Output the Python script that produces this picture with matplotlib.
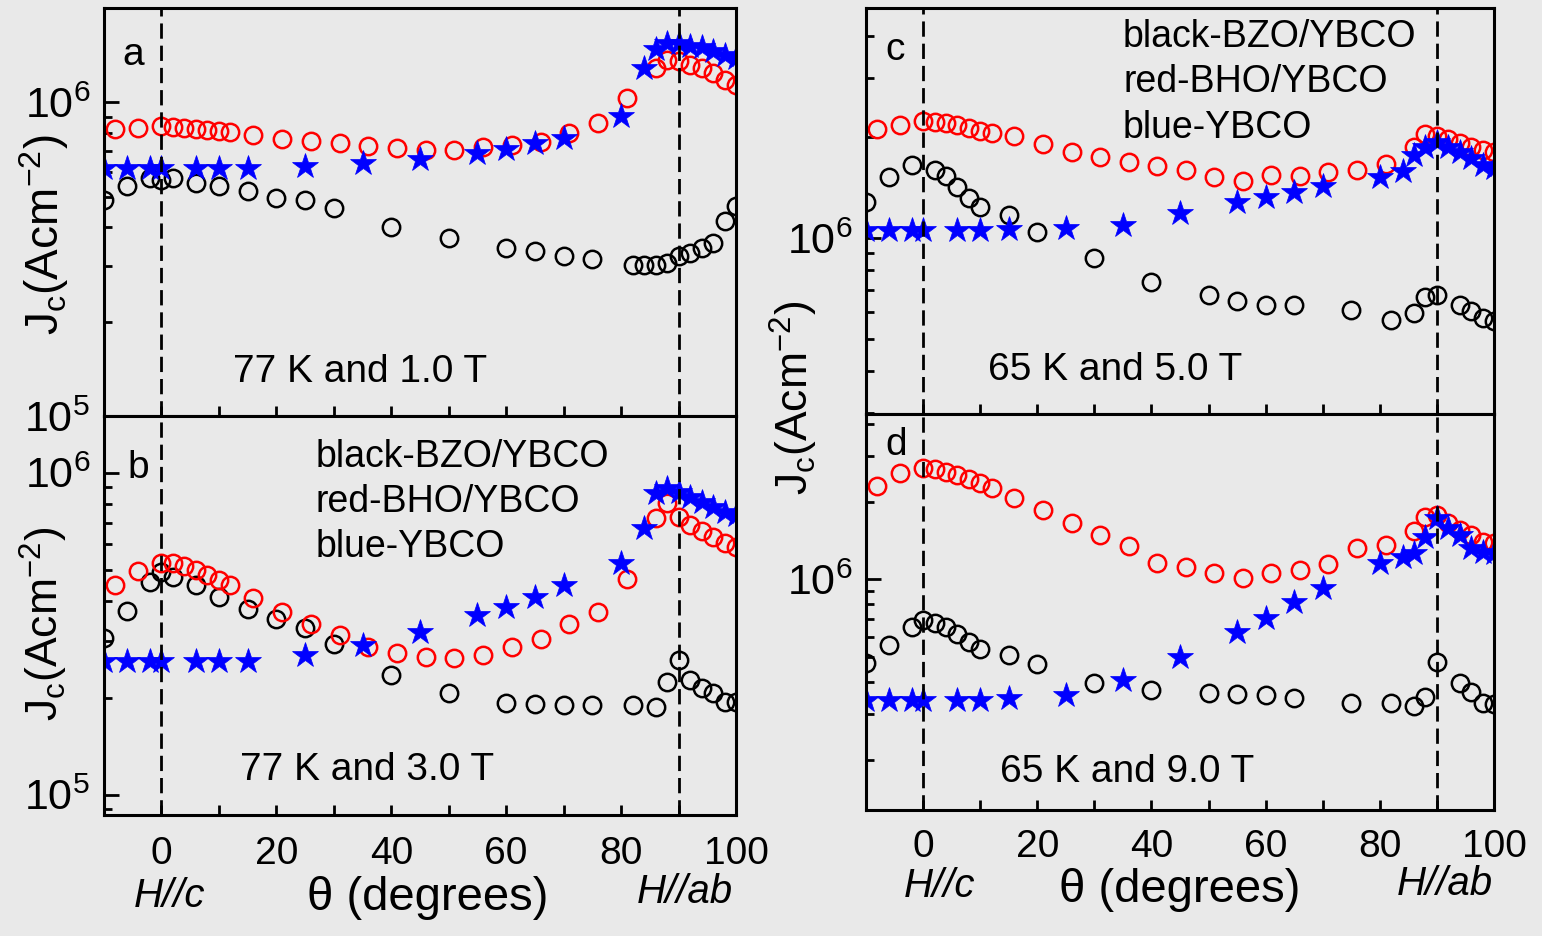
import matplotlib
matplotlib.use('Agg')
import matplotlib.pyplot as plt
from matplotlib.ticker import LogLocator, MultipleLocator, NullFormatter

# angles (degrees)
red_x = [-8, -4, 0, 2, 4, 6, 8, 10, 12, 16, 21, 26, 31, 36, 41, 46, 51, 56, 61, 66,
         71, 76, 81, 86, 88, 90, 92, 94, 96, 98, 100]
blue_x = [-10, -6, -2, 0, 6, 10, 15, 25, 35, 45, 55, 60, 65, 70, 80, 84, 86, 88, 90,
          92, 94, 96, 98, 100]
black_x_a = [-10, -6, -2, 0, 2, 6, 10, 15, 20, 25, 30, 40, 50, 60, 65, 70, 75, 82, 84,
             86, 88, 90, 92, 94, 96, 98, 100]
black_x_b = [-10, -6, -2, 0, 2, 6, 10, 15, 20, 25, 30, 40, 50, 60, 65, 70, 75, 82, 86,
             88, 90, 92, 94, 96, 98, 100]
black_x_c = [-10, -6, -2, 2, 4, 6, 8, 10, 15, 20, 30, 40, 50, 55, 60, 65, 75, 82, 86,
             88, 90, 94, 96, 98, 100]
black_x_d = [-10, -6, -2, 0, 2, 4, 6, 8, 10, 15, 20, 30, 40, 50, 55, 60, 65, 75, 82,
             86, 88, 90, 94, 96, 98, 100]

# Jc values (A/cm^2)
# (a) 77 K, 1.0 T
black_a = [4.9e5, 5.4e5, 5.74e5, 5.67e5, 5.74e5, 5.54e5, 5.4e5, 5.21e5, 4.96e5, 4.9e5,
           4.61e5, 4.02e5, 3.7e5, 3.43e5, 3.35e5, 3.23e5, 3.17e5, 3.04e5, 3.03e5, 3.03e5,
           3.08e5, 3.23e5, 3.31e5, 3.43e5, 3.56e5, 4.18e5, 4.66e5]
red_a = [8.2e5, 8.3e5, 8.4e5, 8.34e5, 8.3e5, 8.24e5, 8.15e5, 8.1e5, 8.06e5, 7.9e5,
         7.67e5, 7.52e5, 7.4e5, 7.25e5, 7.13e5, 7.04e5, 7.07e5, 7.2e5, 7.31e5, 7.47e5,
         8.0e5, 8.57e5, 1.03e6, 1.29e6, 1.37e6, 1.355e6, 1.32e6, 1.29e6, 1.24e6,
         1.18e6, 1.14e6]
blue_a = [6.19e5, 6.2e5, 6.19e5, 6.2e5, 6.19e5, 6.19e5, 6.2e5, 6.26e5, 6.42e5, 6.6e5,
          6.9e5, 7.08e5, 7.4e5, 7.71e5, 9.04e5, 1.29e6, 1.48e6, 1.55e6, 1.55e6, 1.51e6,
          1.5e6, 1.46e6, 1.42e6, 1.39e6]
# (b) 77 K, 3.0 T
black_b = [3.06e5, 3.73e5, 4.59e5, 4.93e5, 4.75e5, 4.48e5, 4.12e5, 3.77e5, 3.51e5,
           3.3e5, 2.93e5, 2.35e5, 2.07e5, 1.92e5, 1.91e5, 1.9e5, 1.9e5, 1.9e5, 1.87e5,
           2.24e5, 2.62e5, 2.27e5, 2.14e5, 2.07e5, 1.94e5, 1.94e5]
red_b = [4.48e5, 4.96e5, 5.23e5, 5.23e5, 5.14e5, 4.99e5, 4.81e5, 4.64e5, 4.48e5, 4.07e5,
         3.7e5, 3.39e5, 3.13e5, 2.88e5, 2.75e5, 2.68e5, 2.65e5, 2.72e5, 2.87e5, 3.04e5,
         3.4e5, 3.7e5, 4.67e5, 7.22e5, 8.03e5, 7.3e5, 6.88e5, 6.6e5, 6.33e5, 6.04e5,
         5.89e5]
blue_b = [2.61e5, 2.61e5, 2.61e5, 2.61e5, 2.61e5, 2.61e5, 2.61e5, 2.71e5, 2.92e5,
          3.21e5, 3.61e5, 3.83e5, 4.1e5, 4.48e5, 5.23e5, 6.72e5, 8.63e5, 8.94e5,
          8.73e5, 8.42e5, 8.13e5, 7.84e5, 7.56e5, 7.39e5]
# (c) 65 K, 5.0 T
black_c = [1.283e6, 1.524e6, 1.65e6, 1.596e6, 1.53e6, 1.42e6, 1.314e6, 1.24e6, 1.171e6,
           1.04e6, 8.7e5, 7.41e5, 6.76e5, 6.5e5, 6.31e5, 6.31e5, 6.1e5, 5.67e5, 5.98e5,
           6.68e5, 6.76e5, 6.31e5, 6.03e5, 5.76e5, 5.63e5]
red_c = [2.11e6, 2.17e6, 2.24e6, 2.22e6, 2.2e6, 2.17e6, 2.13e6, 2.09e6, 2.06e6, 2.01e6,
         1.91e6, 1.8e6, 1.75e6, 1.69e6, 1.64e6, 1.59e6, 1.52e6, 1.48e6, 1.54e6, 1.53e6,
         1.57e6, 1.6e6, 1.66e6, 1.87e6, 2.05e6, 2.01e6, 1.98e6, 1.92e6, 1.87e6, 1.83e6,
         1.8e6]
blue_c = [1.056e6, 1.056e6, 1.056e6, 1.056e6, 1.056e6, 1.056e6, 1.06e6, 1.073e6,
          1.093e6, 1.185e6, 1.283e6, 1.328e6, 1.375e6, 1.43e6, 1.52e6, 1.58e6, 1.77e6,
          1.87e6, 1.94e6, 1.87e6, 1.81e6, 1.73e6, 1.65e6, 1.615e6]
# (d) 65 K, 9.0 T
black_d = [4.73e5, 5.56e5, 6.55e5, 6.96e5, 6.79e5, 6.55e5, 6.14e5, 5.73e5, 5.35e5,
           5.09e5, 4.7e5, 3.97e5, 3.72e5, 3.61e5, 3.59e5, 3.56e5, 3.46e5, 3.32e5, 3.32e5,
           3.23e5, 3.51e5, 4.8e5, 3.95e5, 3.67e5, 3.31e5, 3.28e5]
red_d = [2.3e6, 2.59e6, 2.69e6, 2.67e6, 2.61e6, 2.54e6, 2.45e6, 2.36e6, 2.26e6, 2.06e6,
         1.86e6, 1.65e6, 1.485e6, 1.35e6, 1.153e6, 1.119e6, 1.055e6, 1.009e6, 1.055e6,
         1.086e6, 1.143e6, 1.319e6, 1.358e6, 1.543e6, 1.748e6, 1.775e6, 1.65e6,
         1.553e6, 1.485e6, 1.399e6, 1.379e6]
blue_d = [3.4e5, 3.4e5, 3.4e5, 3.4e5, 3.4e5, 3.4e5, 3.46e5, 3.56e5, 4.07e5, 4.99e5,
          6.26e5, 7.06e5, 8.19e5, 9.23e5, 1.153e6, 1.223e6, 1.261e6, 1.463e6, 1.72e6,
          1.577e6, 1.485e6, 1.319e6, 1.279e6, 1.261e6]

legend_lines = ['black-BZO/YBCO', 'red-BHO/YBCO', 'blue-YBCO']

W, H = 1542, 936
BG = '#e9e9e9'

plt.rcParams['font.family'] = ['Liberation Sans', 'DejaVu Sans']
plt.rcParams['mathtext.fontset'] = 'custom'
plt.rcParams['mathtext.rm'] = 'Liberation Sans'
plt.rcParams['mathtext.it'] = 'Liberation Sans:italic'
plt.rcParams['mathtext.default'] = 'regular'


def box(x0, y0, x1, y1):
    return [x0 / W, 1 - y1 / H, (x1 - x0) / W, (y1 - y0) / H]


def ftext(x, y, s, **kw):
    fig.text(x / W, 1 - y / H, s, **kw)


def panel(rect, xk, yk, yr, yb, ylim, bottom, xpad):
    ax = fig.add_axes(rect)
    ax.set_facecolor(BG)
    ax.plot(xk, yk, 'o', ls='none', mfc='none', mec='black', ms=12.5, mew=1.8)
    ax.plot(red_x, yr, 'o', ls='none', mfc='none', mec='red', ms=12.5, mew=1.8)
    ax.plot(blue_x, yb, '*', ls='none', color='blue', ms=19, mew=0.5)
    for xv in (0, 90):
        ax.axvline(xv, color='black', lw=2, ls=(0, (5.5, 2.5)), zorder=5)
    ax.set_yscale('log')
    ax.set_ylim(ylim)
    ax.set_xlim(-10, 100)
    ax.yaxis.set_major_locator(LogLocator(base=10, numticks=10))
    ax.yaxis.set_minor_locator(LogLocator(base=10, subs=range(2, 10), numticks=20))
    ax.yaxis.set_minor_formatter(NullFormatter())
    ax.xaxis.set_major_locator(MultipleLocator(20))
    ax.xaxis.set_minor_locator(MultipleLocator(10))
    ax.tick_params(axis='y', which='major', direction='in', length=11, width=2,
                   labelsize=31, pad=10)
    ax.tick_params(axis='y', which='minor', direction='in', length=6, width=2)
    ax.tick_params(axis='x', which='both', direction='in', length=7, width=2,
                   labelsize=28, pad=xpad, labelbottom=bottom)
    for sp in ax.spines.values():
        sp.set_linewidth(2.2)
    return ax


fig = plt.figure(figsize=(W / 100, H / 100), dpi=100, facecolor=BG)

panel(box(104, 8, 736, 416), black_x_a, black_a, red_a, blue_a, (1e5, 2.0e6), False, 15)
panel(box(104, 416, 736, 815), black_x_b, black_b, red_b, blue_b, (8.65e4, 1.5e6), True, 15)
panel(box(866, 8, 1494, 414), black_x_c, black_c, red_c, blue_c, (2.98e5, 4.86e6), False, 14)
panel(box(866, 414, 1494, 810), black_x_d, black_d, red_d, blue_d, (1.276e5, 4.37e6), True, 14)

# panel letters
for s, x, y in [('a', 122, 65), ('b', 127, 478), ('c', 885, 60), ('d', 885, 455)]:
    ftext(x, y, s, fontsize=28, va='baseline', ha='left')

# measurement conditions
for s, x, y in [('77 K and 1.0 T', 233, 382), ('77 K and 3.0 T', 240, 780),
                ('65 K and 5.0 T', 988, 380), ('65 K and 9.0 T', 1000, 782)]:
    ftext(x, y, s, fontsize=28, va='baseline', ha='left')

# colour key
for i, s in enumerate(legend_lines):
    ftext(316, 467 + 45 * i, s, fontsize=27, va='baseline', ha='left')
    ftext(1123, 47 + 45.5 * i, s, fontsize=27, va='baseline', ha='left')

# axis labels
ylab = r'J$_c$(Acm$^{-2}$)'
ftext(44, 235, ylab, fontsize=33, rotation=90, ha='center', va='center')
ftext(44, 624, ylab, fontsize=32, rotation=90, ha='center', va='center')
ftext(794, 398, ylab, fontsize=32, rotation=90, ha='center', va='center')

ftext(428, 910, '\u03b8 (degrees)', fontsize=34, ha='center', va='baseline')
ftext(1180, 902, '\u03b8 (degrees)', fontsize=34, ha='center', va='baseline')
ftext(170, 907, 'H//c', fontsize=29, style='italic', ha='center', va='baseline')
ftext(940, 897, 'H//c', fontsize=29, style='italic', ha='center', va='baseline')
ftext(685, 903, 'H//ab', fontsize=29, style='italic', ha='center', va='baseline')
ftext(1445, 895, 'H//ab', fontsize=29, style='italic', ha='center', va='baseline')

fig.savefig('out.png', dpi=100, facecolor=BG)
